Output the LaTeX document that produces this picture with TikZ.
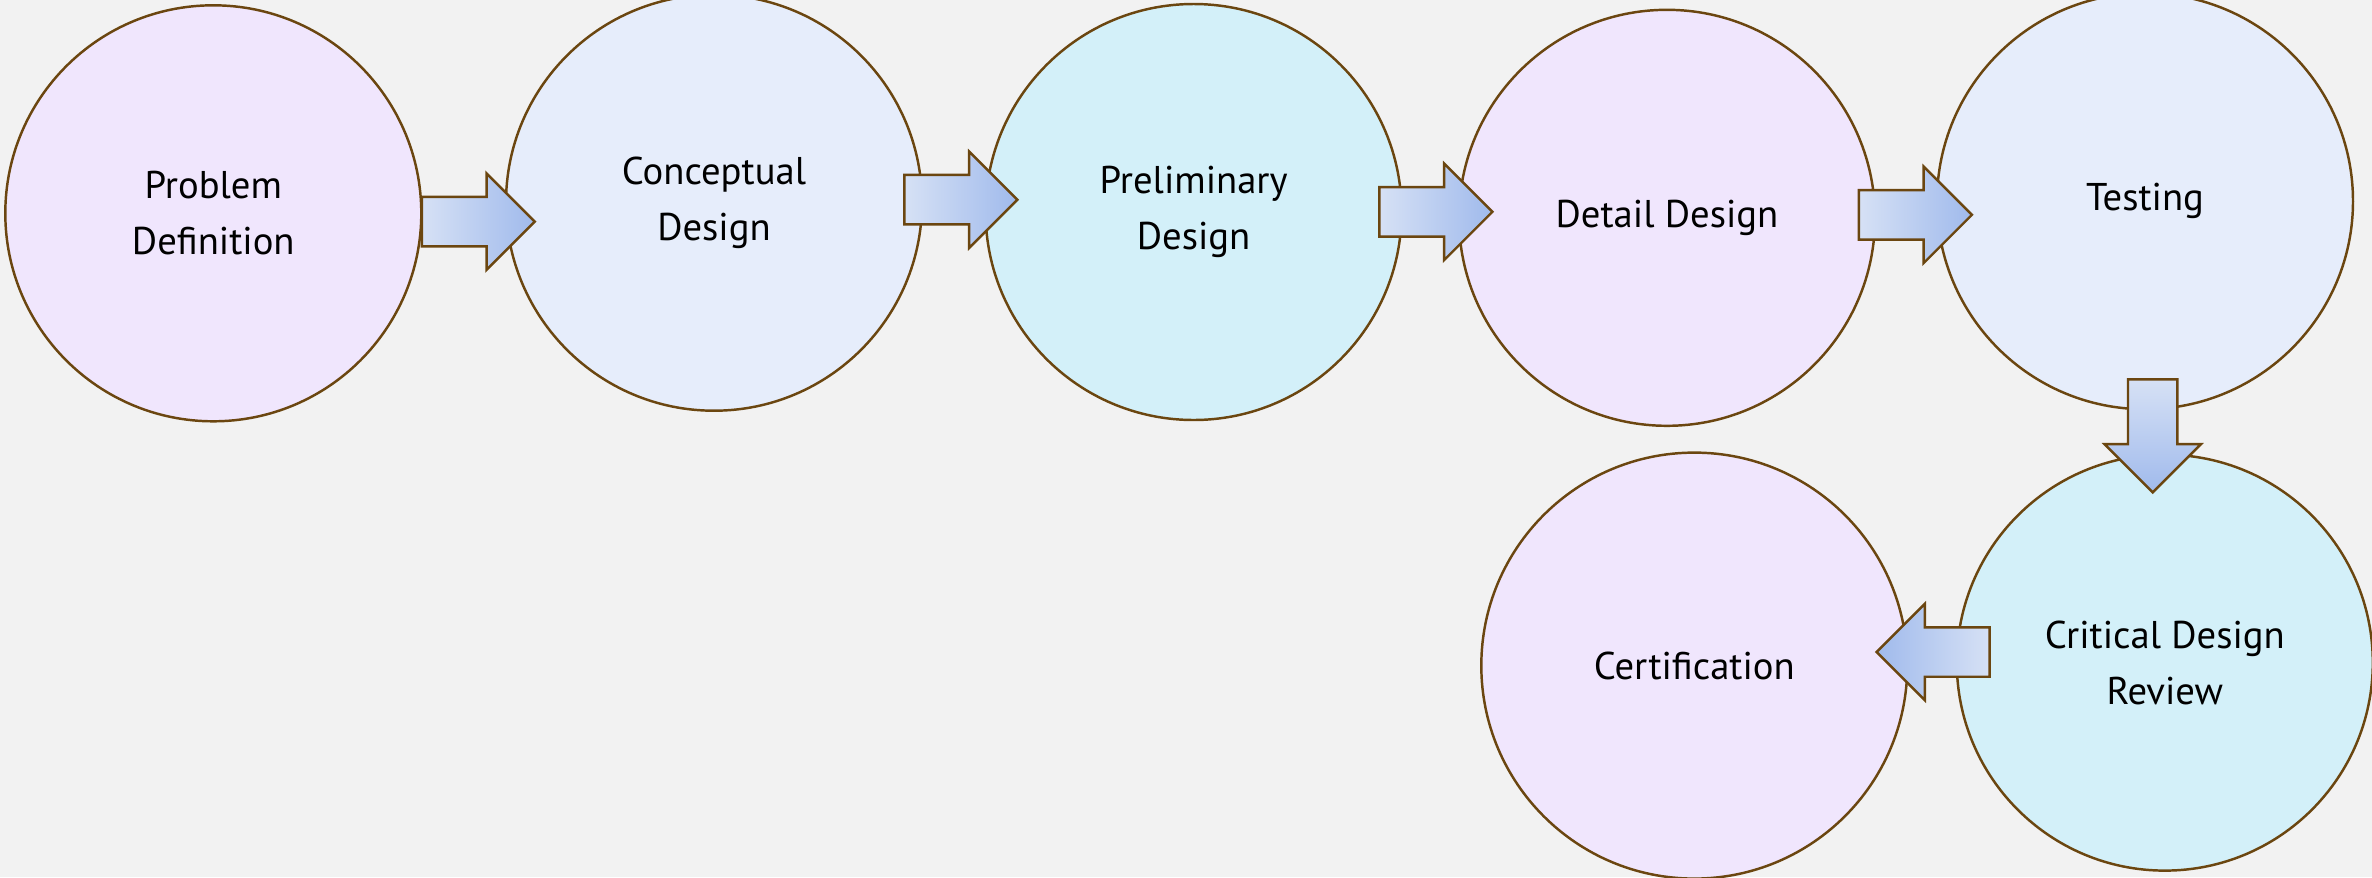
\documentclass[tikz,border=0pt]{standalone}
\usepackage{fontspec}
\setmainfont{PT Sans}
\usetikzlibrary{shapes,arrows,positioning,calc}
\definecolor{bgcol}{RGB}{242,242,242}
\definecolor{edgecol}{RGB}{107,70,16}
\definecolor{lavender}{RGB}{240,230,253}
\definecolor{paleblue}{RGB}{230,237,251}
\definecolor{palecyan}{RGB}{211,240,249}
\definecolor{arrlight}{RGB}{214,225,245}
\definecolor{arrdark}{RGB}{160,186,236}
\tikzstyle{phase} = [circle, draw=edgecol, line width=0.7pt, minimum size=4.16cm, align=center, font=\fontsize{11}{16}\selectfont]
\tikzstyle{bigarrow} = [single arrow, draw=edgecol, line width=0.7pt, minimum height=1.13cm, inner xsep=0pt, inner ysep=0.235cm, single arrow head extend=0.235cm, single arrow tip angle=90, anchor=tail]

\begin{document}
\begin{tikzpicture}[x=1cm, y=1cm]
    \fill[bgcol] (0,0) rectangle (23.72,-8.77);
    \useasboundingbox (0,0) rectangle (23.72,-8.77);

    % phases
    \node[phase, fill=lavender] (prob) at (2.133,-2.133) {Problem\\Definition};
    \node[phase, fill=paleblue] (concept) at (7.14,-2.027) {Conceptual\\Design};
    \node[phase, fill=palecyan] (prelim) at (11.936,-2.12) {Preliminary\\Design};
    \node[phase, fill=lavender] (detail) at (16.67,-2.178) {Detail Design};
    \node[phase, fill=paleblue] (test) at (21.45,-2.012) {Testing};
    \node[phase, fill=palecyan] (cdr) at (21.648,-6.626) {Critical Design\\Review};
    \node[phase, fill=lavender, minimum size=4.26cm] (cert) at (16.943,-6.656) {Certification};

    % block arrows
    \node[bigarrow, left color=arrlight, right color=arrdark] (a1) at (4.206,-2.216) {};
    \node[bigarrow, left color=arrlight, right color=arrdark] (a2) at (9.031,-1.997) {};
    \node[bigarrow, left color=arrlight, right color=arrdark] (a3) at (13.782,-2.118) {};
    \node[bigarrow, left color=arrlight, right color=arrdark] (a4) at (18.577,-2.148) {};
    \node[bigarrow, shape border rotate=270, inner xsep=0.235cm, inner ysep=0pt, top color=arrlight, bottom color=arrdark] (a5) at (21.527,-3.782) {};
    \node[bigarrow, shape border rotate=180, left color=arrdark, right color=arrlight] (a6) at (19.908,-6.52) {};
\end{tikzpicture}
\end{document}
